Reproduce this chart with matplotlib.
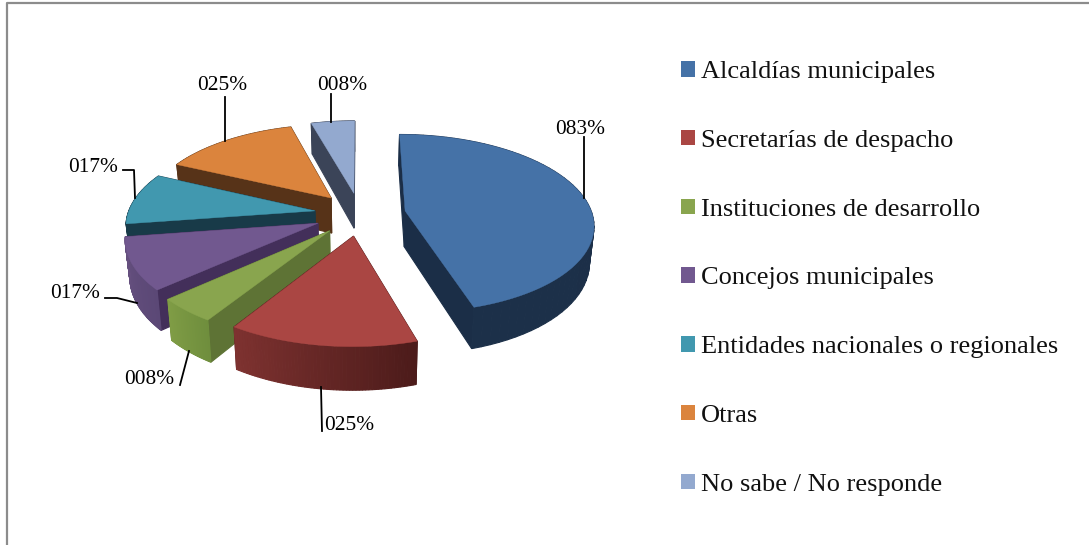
import matplotlib
matplotlib.use('Agg')
import matplotlib.pyplot as plt
import numpy as np
from matplotlib.patches import Patch

categories = ['Alcaldías municipales', 'Secretarías de despacho', 'Instituciones de desarrollo',
              'Concejos municipales', 'Entidades nacionales o regionales', 'Otras', 'No sabe / No responde']
values = [83, 25, 8, 17, 17, 25, 8]
colors = ['#4572A7', '#AA4643', '#89A54E', '#71588F', '#4198AF', '#DB843D', '#93A9CF']

# side colours: cut face, arc face at start of the slice, arc face at the end of it
cut_colors = ['#1B2E47', '#4C1B1A', '#5E7335', '#432F5A', '#183A48', '#573318', '#3B4458']
arc_start = ['#1B2E47', '#4C1B1A', '#6F8E3D', '#5B4876', '#183A48', '#573318', '#3B4458']
arc_end = ['#1C3049', '#7E3230', '#7F9C45', '#66507F', '#183A48', '#573318', '#3B4458']

# text label position (px) and leader line for each slice
label_pos = [(580, 129), (349, 425), (149, 380), (75, 294), (93, 167), (222, 86), (342, 85)]
leaders = [
    [(584, 137), (584, 198)],
    [(321, 387), (322, 431)],
    [(180, 385), (189, 351)],
    [(105, 298), (117, 298), (137, 303)],
    [(123, 170), (134, 170), (135, 198)],
    [(225, 97), (225, 141)],
    [(331, 94), (331, 122)],
]

# fake perspective of the pie plane
cx, cy = 360, 214
rx, ry = 187, 88
persp = 0.141
explode = 0.245
depth = 36
shrink = 0.02


def project(u, v, drop=0.0):
    s = 1 / (1 + persp * v)
    return cx + rx * u * s * (1 - shrink * drop / depth), cy - ry * v * s + drop * s


def slice_outline(a0, a1, n=60):
    mid = np.radians((a0 + a1) / 2)
    ou, ov = explode * np.sin(mid), explode * np.cos(mid)
    t = np.radians(np.linspace(a0, a1, n))
    return ou, ov, ou + np.sin(t), ov + np.cos(t)


def quad(ax, p0, p1, color):
    x0, y0 = project(*p0)
    x1, y1 = project(*p1)
    x2, y2 = project(*p1, depth)
    x3, y3 = project(*p0, depth)
    ax.fill([x0, x1, x2, x3], [y0, y1, y2, y3], color=color, lw=0.8)


def draw_slice(ax, i, a0, a1):
    ou, ov, us, vs = slice_outline(a0, a1)
    # cut faces first, the top hides what should not show
    quad(ax, (ou, ov), (us[0], vs[0]), cut_colors[i])
    quad(ax, (ou, ov), (us[-1], vs[-1]), cut_colors[i])
    c0 = np.array(matplotlib.colors.to_rgb(arc_start[i]))
    c1 = np.array(matplotlib.colors.to_rgb(arc_end[i]))
    for k in range(len(us) - 1):
        f = k / (len(us) - 2)
        quad(ax, (us[k], vs[k]), (us[k + 1], vs[k + 1]), tuple(c0 + (c1 - c0) * f))
    xs, ys = project(np.r_[ou, us], np.r_[ov, vs])
    ax.fill(xs, ys, color=colors[i], lw=0.3)


plt.rcParams['font.family'] = ['Liberation Serif', 'DejaVu Serif']
fig = plt.figure(figsize=(10.89, 5.45), dpi=100)
ax = fig.add_axes([0, 0, 1, 1])
ax.set_xlim(0, 1089)
ax.set_ylim(545, 0)
ax.axis('off')

# chart border, only top and left are inside the crop
ax.plot([7, 7, 1089], [545, 2.5, 2.5], color='#8c8c8c', lw=1.6)

edges = np.r_[0, np.cumsum(values)] / sum(values) * 360
for i in [6, 5, 4, 3, 2, 1, 0]:
    draw_slice(ax, i, edges[i], edges[i + 1])

for i, v in enumerate(values):
    xs, ys = zip(*leaders[i])
    ax.plot(xs, ys, color='black', lw=1.3)
    ax.text(label_pos[i][0], label_pos[i][1], f'{v:03d}%', fontsize=15.4, ha='center', va='center', color='black')

handles = [Patch(facecolor=c, edgecolor='none') for c in colors]
ax.legend(handles, categories, loc='upper left', bbox_to_anchor=(681 / 1089, 1 - 61 / 545), frameon=False,
          fontsize=19, handlelength=0.53, handleheight=0.53, handletextpad=0.21, labelspacing=1.767,
          borderaxespad=0, borderpad=0, labelcolor='#111111')

fig.savefig('out.png', dpi=100)
